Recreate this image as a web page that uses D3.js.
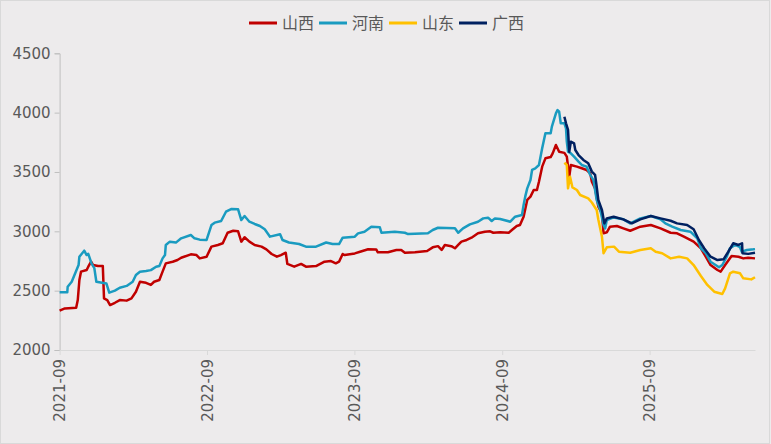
<!DOCTYPE html>
<html>
<head>
<meta charset="utf-8">
<script src="https://cdn.jsdelivr.net/npm/d3@7"></script>
<style>
  html, body { margin: 0; padding: 0; background: #edebec; }
  svg { display: block; }
</style>
</head>
<body>
<svg id="chart" width="771" height="444"></svg>
<script>
// series names and colours
const seriesNames = ["山西", "河南", "山东", "广西"];
const seriesColors = ["#c00000", "#1a9bc0", "#ffc000", "#002060"];

// y axis ticks
const yTicks = [2000, 2500, 3000, 3500, 4000, 4500];
// x axis tick labels
const xTickLabels = ["2021-09", "2022-09", "2023-09", "2024-09", "2025-09"];

// 山西
const shanxi = [
  ["2021-09-01", 2331], ["2021-09-14", 2350], ["2021-10-12", 2355], ["2021-10-16", 2421],
  ["2021-10-20", 2590], ["2021-10-24", 2660], ["2021-11-07", 2674], ["2021-11-11", 2702],
  ["2021-11-18", 2744], ["2021-11-23", 2716], ["2021-12-05", 2707], ["2021-12-17", 2707],
  ["2021-12-20", 2435], ["2021-12-28", 2421], ["2022-01-04", 2379], ["2022-01-16", 2398],
  ["2022-01-28", 2421], ["2022-02-14", 2416], ["2022-02-26", 2435], ["2022-03-09", 2491],
  ["2022-03-19", 2575], ["2022-04-03", 2566], ["2022-04-15", 2548], ["2022-04-23", 2575],
  ["2022-05-06", 2590], ["2022-05-14", 2660], ["2022-05-22", 2730], ["2022-06-08", 2744],
  ["2022-06-20", 2758], ["2022-06-29", 2777], ["2022-07-23", 2806], ["2022-08-06", 2800],
  ["2022-08-14", 2772], ["2022-08-31", 2786], ["2022-09-12", 2871], ["2022-09-28", 2885],
  ["2022-10-10", 2899], ["2022-10-22", 2988], ["2022-11-05", 3005], ["2022-11-17", 3000],
  ["2022-11-25", 2913], ["2022-12-03", 2950], ["2022-12-15", 2913], ["2022-12-28", 2885],
  ["2023-01-14", 2871], ["2023-01-26", 2848], ["2023-02-08", 2809], ["2023-02-21", 2786],
  ["2023-03-03", 2800], ["2023-03-15", 2820], ["2023-03-19", 2725], ["2023-04-05", 2702],
  ["2023-04-22", 2725], ["2023-05-04", 2702], ["2023-05-29", 2707], ["2023-06-19", 2744],
  ["2023-07-05", 2749], ["2023-07-17", 2730], ["2023-07-25", 2744], ["2023-08-03", 2809],
  ["2023-08-08", 2800], ["2023-09-02", 2814], ["2023-09-15", 2828], ["2023-10-05", 2849],
  ["2023-10-25", 2847], ["2023-10-29", 2823], ["2023-11-23", 2823], ["2023-12-14", 2843],
  ["2023-12-26", 2843], ["2024-01-04", 2820], ["2024-01-29", 2823], ["2024-02-28", 2834],
  ["2024-03-13", 2865], ["2024-03-26", 2875], ["2024-04-04", 2843], ["2024-04-12", 2885],
  ["2024-04-28", 2875], ["2024-05-07", 2857], ["2024-05-15", 2885], ["2024-05-23", 2913],
  ["2024-06-05", 2927], ["2024-06-17", 2946], ["2024-07-03", 2983], ["2024-07-20", 2997],
  ["2024-08-02", 3000], ["2024-08-10", 2988], ["2024-08-27", 2992], ["2024-09-17", 2988],
  ["2024-09-25", 3011], ["2024-10-07", 3045], ["2024-10-15", 3053], ["2024-10-24", 3123],
  ["2024-11-02", 3264], ["2024-11-10", 3292], ["2024-11-18", 3348], ["2024-11-26", 3348],
  ["2024-12-01", 3418], ["2024-12-09", 3545], ["2024-12-17", 3615], ["2024-12-30", 3626],
  ["2025-01-04", 3657], ["2025-01-12", 3727], ["2025-01-20", 3671], ["2025-02-02", 3661],
  ["2025-02-08", 3629], ["2025-02-14", 3460], ["2025-02-18", 3559], ["2025-03-05", 3545],
  ["2025-03-17", 3531], ["2025-03-29", 3517], ["2025-04-07", 3489], ["2025-04-11", 3418],
  ["2025-04-19", 3362], ["2025-04-27", 3208], ["2025-05-06", 3152], ["2025-05-10", 2983],
  ["2025-05-18", 2992], ["2025-05-26", 3039], ["2025-06-12", 3045], ["2025-06-28", 3025],
  ["2025-07-15", 3005], ["2025-08-09", 3039], ["2025-09-04", 3053], ["2025-09-28", 3025],
  ["2025-10-23", 2988], ["2025-11-08", 2983], ["2025-11-25", 2955], ["2025-12-19", 2913],
  ["2026-01-06", 2857], ["2026-01-18", 2786], ["2026-01-30", 2716], ["2026-02-16", 2674],
  ["2026-02-24", 2660], ["2026-03-07", 2716], ["2026-03-23", 2792], ["2026-04-09", 2786],
  ["2026-04-21", 2772], ["2026-05-03", 2778], ["2026-05-20", 2772]
];

// 河南
const henan = [
  ["2021-09-01", 2486], ["2021-09-20", 2486], ["2021-09-21", 2533], ["2021-10-01", 2575],
  ["2021-10-18", 2716], ["2021-10-20", 2786], ["2021-11-01", 2837], ["2021-11-07", 2800],
  ["2021-11-11", 2810], ["2021-11-19", 2730], ["2021-11-26", 2690], ["2021-12-01", 2575],
  ["2021-12-26", 2560], ["2022-01-02", 2483], ["2022-01-16", 2500], ["2022-01-28", 2525],
  ["2022-02-14", 2540], ["2022-03-01", 2575], ["2022-03-09", 2632], ["2022-03-19", 2660],
  ["2022-04-03", 2666], ["2022-04-15", 2673], ["2022-04-28", 2702], ["2022-05-06", 2708],
  ["2022-05-14", 2772], ["2022-05-20", 2800], ["2022-05-22", 2885], ["2022-06-01", 2913],
  ["2022-06-16", 2905], ["2022-06-29", 2941], ["2022-07-23", 2969], ["2022-08-01", 2941],
  ["2022-08-14", 2930], ["2022-08-31", 2927], ["2022-09-12", 3053], ["2022-09-20", 3073],
  ["2022-10-06", 3087], ["2022-10-18", 3165], ["2022-11-01", 3189], ["2022-11-17", 3185],
  ["2022-11-25", 3095], ["2022-12-03", 3129], ["2022-12-15", 3081], ["2022-12-28", 3062],
  ["2023-01-10", 3045], ["2023-01-22", 3017], ["2023-02-04", 2955], ["2023-03-01", 2976],
  ["2023-03-07", 2927], ["2023-03-23", 2906], ["2023-04-17", 2893], ["2023-05-04", 2871],
  ["2023-05-29", 2871], ["2023-06-23", 2906], ["2023-07-09", 2893], ["2023-07-25", 2893],
  ["2023-08-03", 2946], ["2023-09-02", 2955], ["2023-09-10", 2983], ["2023-09-26", 2997],
  ["2023-10-13", 3039], ["2023-11-03", 3034], ["2023-11-07", 2988], ["2023-12-10", 2997],
  ["2024-01-04", 2988], ["2024-01-12", 2977], ["2024-03-01", 2983], ["2024-03-13", 3011],
  ["2024-03-26", 3030], ["2024-05-07", 3025], ["2024-05-15", 2988], ["2024-05-27", 3025],
  ["2024-06-13", 3059], ["2024-07-03", 3081], ["2024-07-16", 3109], ["2024-07-28", 3115],
  ["2024-08-06", 3087], ["2024-08-14", 3109], ["2024-08-27", 3104], ["2024-09-21", 3081],
  ["2024-10-03", 3123], ["2024-10-20", 3137], ["2024-10-24", 3222], ["2024-10-28", 3292],
  ["2024-11-02", 3362], ["2024-11-10", 3432], ["2024-11-14", 3517], ["2024-11-22", 3531],
  ["2024-12-01", 3559], ["2024-12-09", 3699], ["2024-12-17", 3826], ["2024-12-30", 3826],
  ["2025-01-02", 3882], ["2025-01-12", 3994], ["2025-01-16", 4022], ["2025-01-20", 4008],
  ["2025-01-24", 3910], ["2025-02-02", 3910], ["2025-02-06", 3868], ["2025-02-08", 3755],
  ["2025-02-11", 3671], ["2025-02-18", 3657], ["2025-02-26", 3629], ["2025-03-09", 3587],
  ["2025-03-17", 3559], ["2025-03-29", 3545], ["2025-04-07", 3475], ["2025-04-15", 3432],
  ["2025-04-23", 3264], ["2025-05-02", 3180], ["2025-05-10", 3053], ["2025-05-14", 3025],
  ["2025-05-18", 3095], ["2025-06-04", 3117], ["2025-06-28", 3101], ["2025-07-15", 3067],
  ["2025-08-09", 3109], ["2025-09-04", 3129], ["2025-09-28", 3101], ["2025-10-10", 3067],
  ["2025-10-27", 3039], ["2025-11-17", 3011], ["2025-12-11", 2997], ["2025-12-28", 2941],
  ["2026-01-06", 2857], ["2026-01-18", 2817], ["2026-01-30", 2744], ["2026-02-20", 2697],
  ["2026-02-28", 2716], ["2026-03-11", 2786], ["2026-03-19", 2857], ["2026-04-01", 2885],
  ["2026-04-13", 2866], ["2026-04-17", 2829], ["2026-04-30", 2843], ["2026-05-16", 2848],
  ["2026-05-20", 2850]
];

// 山东
const shandong = [
  ["2025-02-02", 3578], ["2025-02-08", 3559], ["2025-02-11", 3362], ["2025-02-16", 3460],
  ["2025-02-22", 3370], ["2025-03-05", 3348], ["2025-03-13", 3306], ["2025-04-02", 3278],
  ["2025-04-11", 3243], ["2025-04-23", 3180], ["2025-04-27", 3100], ["2025-05-06", 2955],
  ["2025-05-10", 2815], ["2025-05-18", 2865], ["2025-06-05", 2871], ["2025-06-17", 2828],
  ["2025-07-15", 2820], ["2025-08-09", 2843], ["2025-09-04", 2857], ["2025-09-16", 2828],
  ["2025-10-02", 2815], ["2025-10-23", 2772], ["2025-11-13", 2786], ["2025-12-03", 2772],
  ["2025-12-19", 2716], ["2026-01-06", 2624], ["2026-01-22", 2548], ["2026-02-08", 2491],
  ["2026-02-28", 2472], ["2026-03-07", 2519], ["2026-03-19", 2646], ["2026-03-27", 2660],
  ["2026-04-13", 2646], ["2026-04-21", 2604], ["2026-05-11", 2595], ["2026-05-20", 2613]
];

// 广西
const guangxi = [
  ["2025-02-02", 3966], ["2025-02-06", 3910], ["2025-02-11", 3854], ["2025-02-14", 3671],
  ["2025-02-18", 3755], ["2025-02-26", 3741], ["2025-03-01", 3685], ["2025-03-09", 3643],
  ["2025-03-21", 3601], ["2025-04-02", 3573], ["2025-04-11", 3503], ["2025-04-19", 3475],
  ["2025-04-23", 3376], ["2025-04-27", 3264], ["2025-05-06", 3180], ["2025-05-12", 3067],
  ["2025-05-18", 3109], ["2025-06-04", 3123], ["2025-06-28", 3101], ["2025-07-19", 3067],
  ["2025-08-09", 3101], ["2025-09-04", 3129], ["2025-09-28", 3109], ["2025-10-23", 3089],
  ["2025-11-08", 3067], ["2025-12-03", 3053], ["2025-12-19", 3017], ["2026-01-01", 2927],
  ["2026-01-14", 2857], ["2026-01-30", 2786], ["2026-02-16", 2758], ["2026-03-03", 2764],
  ["2026-03-15", 2828], ["2026-03-27", 2899], ["2026-04-09", 2885], ["2026-04-18", 2899],
  ["2026-04-19", 2815], ["2026-05-03", 2810], ["2026-05-20", 2820]
];

const allSeries = [shanxi, henan, shandong, guangxi];

const W = 771, H = 444;
const margin = { left: 59.6, right: 16, top: 53.3, bottom: 94 };
const parseDate = d3.timeParse("%Y-%m-%d");

const svg = d3.select("#chart");

// background + border
svg.append("rect")
  .attr("x", 0.5).attr("y", 0.5)
  .attr("width", W - 2).attr("height", H - 1)
  .attr("fill", "#edebec")
  .attr("stroke", "#d9d9d9");

const x = d3.scaleTime()
  .domain([parseDate("2021-09-01"), parseDate("2026-05-20")])
  .range([margin.left, W - margin.right]);

const y = d3.scaleLinear()
  .domain([2000, 4500])
  .range([H - margin.bottom, margin.top]);

// y axis
const yAxis = d3.axisLeft(y).tickValues(yTicks)
  .tickFormat(d3.format("d")).tickSize(5).tickPadding(4);
const gy = svg.append("g")
  .attr("transform", "translate(" + margin.left + ",0)")
  .call(yAxis);
gy.select(".domain").attr("stroke", "#bfbfbf");
gy.selectAll(".tick line").attr("stroke", "#bfbfbf");
gy.selectAll(".tick text")
  .attr("fill", "#595959")
  .style("font-family", "DejaVu Sans, sans-serif")
  .style("font-size", "15px");

// x axis
const xTickDates = xTickLabels.map(s => parseDate(s + "-01"));
const xAxis = d3.axisBottom(x).tickValues(xTickDates)
  .tickFormat(d3.timeFormat("%Y-%m")).tickSize(5).tickSizeOuter(0).tickPadding(5);
const gx = svg.append("g")
  .attr("transform", "translate(0," + (H - margin.bottom) + ")")
  .call(xAxis);
gx.select(".domain").attr("stroke", "#d9d9d9");
gx.selectAll(".tick line").attr("stroke", "#d9d9d9");
gx.selectAll(".tick text")
  .attr("fill", "#595959")
  .style("font-family", "DejaVu Sans, sans-serif")
  .style("font-size", "15px")
  .attr("transform", "rotate(-90)")
  .attr("text-anchor", "end")
  .attr("x", -9)
  .attr("y", 0)
  .attr("dy", "0.35em");

// lines
const line = d3.line()
  .x(d => x(parseDate(d[0])))
  .y(d => y(d[1]));

svg.append("g")
  .selectAll("path")
  .data(allSeries)
  .enter()
  .append("path")
  .attr("d", line)
  .attr("fill", "none")
  .attr("stroke", (d, i) => seriesColors[i])
  .attr("stroke-width", 2.5)
  .attr("stroke-linejoin", "round");

// legend
const legend = svg.append("g").attr("transform", "translate(249,23)");
const item = legend.selectAll("g")
  .data(seriesNames)
  .enter()
  .append("g")
  .attr("transform", (d, i) => "translate(" + (i * 70) + ",0)");
item.append("line")
  .attr("x1", 0).attr("x2", 28)
  .attr("y1", 0).attr("y2", 0)
  .attr("stroke", (d, i) => seriesColors[i])
  .attr("stroke-width", 3);
item.append("text")
  .attr("x", 33)
  .attr("y", 0)
  .attr("dy", "0.36em")
  .attr("fill", "#595959")
  .style("font-family", "Noto Sans CJK SC, sans-serif")
  .style("font-size", "16px")
  .text(d => d);
</script>
</body>
</html>
